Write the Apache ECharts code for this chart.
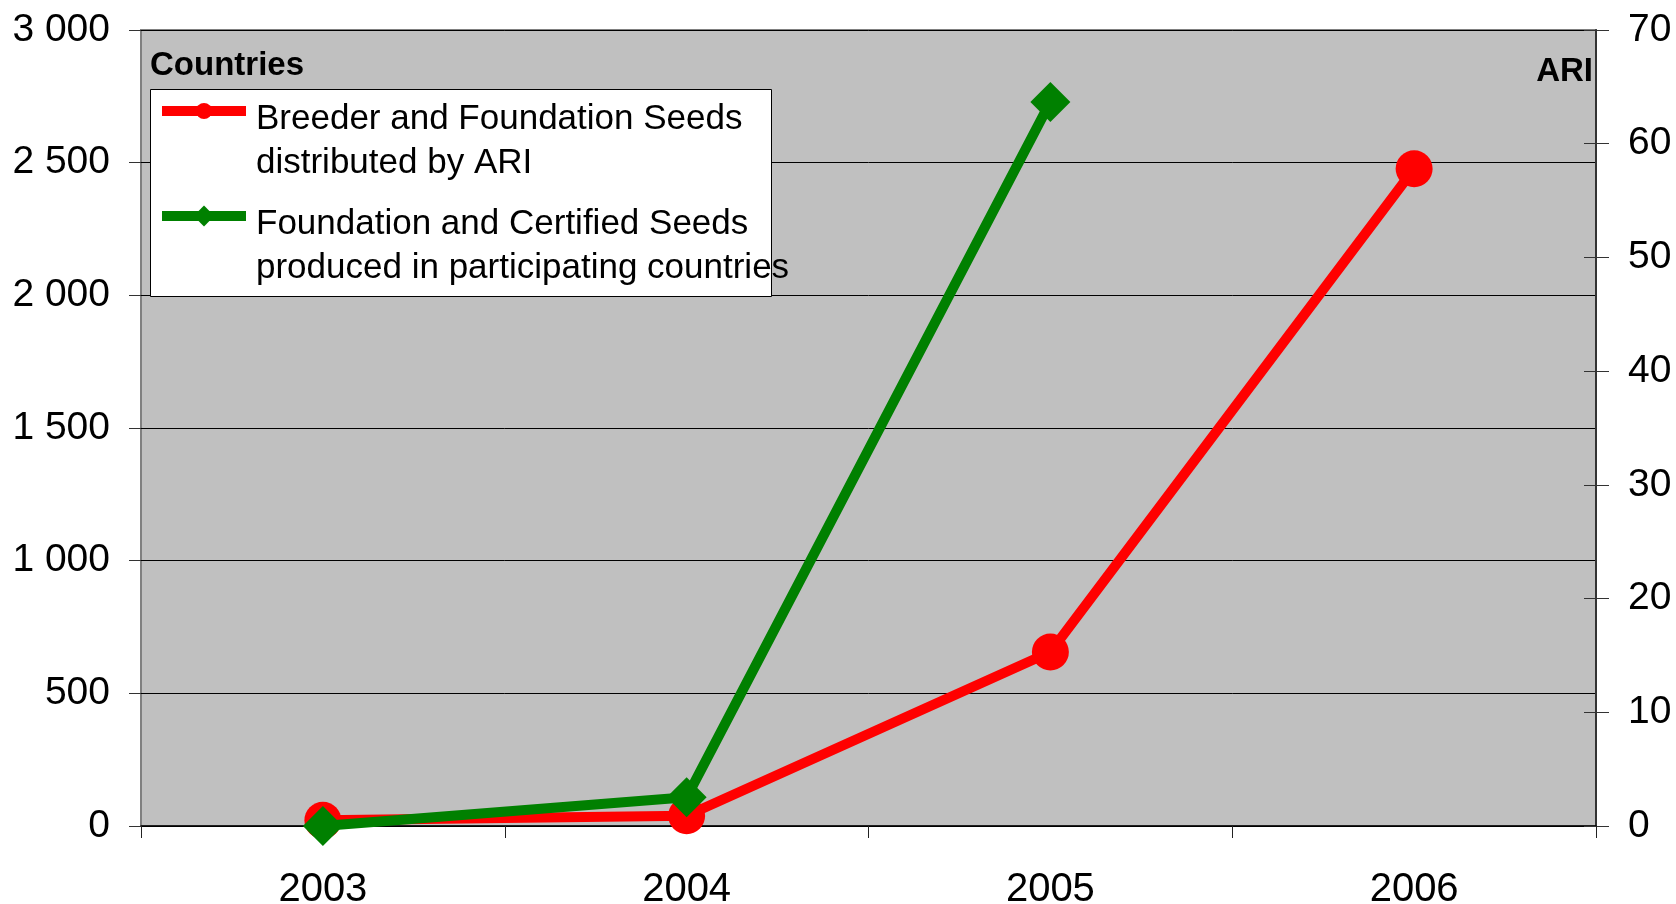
<!DOCTYPE html>
<html>
<head>
<meta charset="utf-8">
<script src="https://cdn.jsdelivr.net/npm/echarts@6/dist/echarts.min.js"></script>
<style>
  html, body { margin: 0; padding: 0; background: #fff; }
  #chart { width: 1676px; height: 904px; }
</style>
</head>
<body>
<div id="chart"></div>
<script>
var myChart = echarts.init(document.getElementById("chart"));

var years = ["2003", "2004", "2005", "2006"];
// distributed by ARI (right axis)
var ariSeeds = [0.5, 0.9, 15.3, 57.8];
// produced in participating countries (left axis)
var countrySeeds = [0, 108, 2729, null];
var seriesNames = [
  "Breeder and Foundation Seeds\ndistributed by ARI",
  "Foundation and Certified Seeds\nproduced in participating countries",
];

var font = "Liberation Sans, Arial, sans-serif";

function spaced(v) {
  return String(v).replace(/\B(?=(\d{3})+(?!\d))/g, " ");
}

// a taller blank first line pushes the first text line level with the icon
function legendFor(name, top, iconH) {
  return {
    data: [name],
    left: 157,
    top: top,
    padding: 0,
    itemWidth: 84,
    itemHeight: iconH,
    selectedMode: false,
    lineStyle: { width: 10 },
    formatter: function (n) {
      var lines = n.split("\n").map(function (s) {
        return "{t|" + s + "}";
      });
      return "{g| }\n" + lines.join("\n");
    },
    textStyle: {
      fontFamily: font,
      fontSize: 35,
      color: "#000",
      rich: {
        g: { fontSize: 10, lineHeight: 60 },
        t: { fontFamily: font, fontSize: 35, color: "#000", lineHeight: 44, padding: [0, 0, 0, 5] },
      },
    },
  };
}

var option = {
  animation: false,
  grid: {
    left: 141,
    right: 80,
    top: 30,
    bottom: 78,
    outerBoundsMode: "none",
    containLabel: false,
    show: true,
    backgroundColor: "#C0C0C0",
    borderColor: "#808080",
    borderWidth: 2,
  },
  graphic: [
    {
      type: "rect",
      z: 3,
      shape: { x: 150.5, y: 89.5, width: 621, height: 207 },
      style: { fill: "#fff", stroke: "#000", lineWidth: 1 },
    },
  ],
  legend: [
    legendFor(seriesNames[0], 62, 20),
    legendFor(seriesNames[1], 167, 26),
  ],
  xAxis: {
    type: "category",
    data: years,
    boundaryGap: true,
    axisLine: { lineStyle: { color: "#000", width: 1.5 } },
    axisTick: { show: true, length: 12, lineStyle: { color: "#222" } },
    axisLabel: { fontFamily: font, fontSize: 40, color: "#000", margin: 44 },
  },
  yAxis: [
    {
      type: "value",
      min: 0,
      max: 3000,
      interval: 500,
      name: "Countries",
      nameLocation: "end",
      nameGap: -36,
      nameTextStyle: {
        fontFamily: font,
        fontSize: 33,
        fontWeight: "bold",
        color: "#000",
        align: "left",
        verticalAlign: "middle",
        padding: [0, 0, 0, 9],
      },
      axisLine: { show: false },
      axisTick: { show: true, length: 12, lineStyle: { color: "#333" } },
      splitLine: { show: true, lineStyle: { color: "#000", width: 1 } },
      axisLabel: {
        fontFamily: font,
        fontSize: 39,
        color: "#000",
        margin: 31,
        formatter: spaced,
      },
    },
    {
      type: "value",
      position: "right",
      min: 0,
      max: 70,
      interval: 10,
      name: "ARI",
      nameLocation: "end",
      nameGap: -42,
      nameTextStyle: {
        fontFamily: font,
        fontSize: 33,
        fontWeight: "bold",
        color: "#000",
        align: "right",
        verticalAlign: "middle",
        padding: [0, 3, 0, 0],
      },
      axisLine: { show: true, lineStyle: { color: "#333", width: 2 } },
      axisTick: { show: true, length: 13, lineStyle: { color: "#333" } },
      splitLine: { show: false },
      axisLabel: { fontFamily: font, fontSize: 39, color: "#000", margin: 32 },
    },
    {
      // inner half of the crossing ticks on the right axis
      type: "value",
      position: "right",
      min: 0,
      max: 70,
      interval: 10,
      axisLine: { show: false },
      axisTick: { show: true, inside: true, length: 12, lineStyle: { color: "#333" } },
      splitLine: { show: false },
      axisLabel: { show: false },
    },
  ],
  series: [
    {
      name: seriesNames[0],
      type: "line",
      yAxisIndex: 1,
      data: ariSeeds,
      symbol: "circle",
      symbolSize: 37,
      z: 2,
      itemStyle: { color: "#FF0000" },
      lineStyle: { color: "#FF0000", width: 10 },
    },
    {
      name: seriesNames[1],
      type: "line",
      yAxisIndex: 0,
      data: countrySeeds,
      symbol: "diamond",
      symbolSize: 40,
      z: 3,
      itemStyle: { color: "#008000" },
      lineStyle: { color: "#008000", width: 10 },
    },
  ],
};

myChart.setOption(option);
</script>
</body>
</html>
